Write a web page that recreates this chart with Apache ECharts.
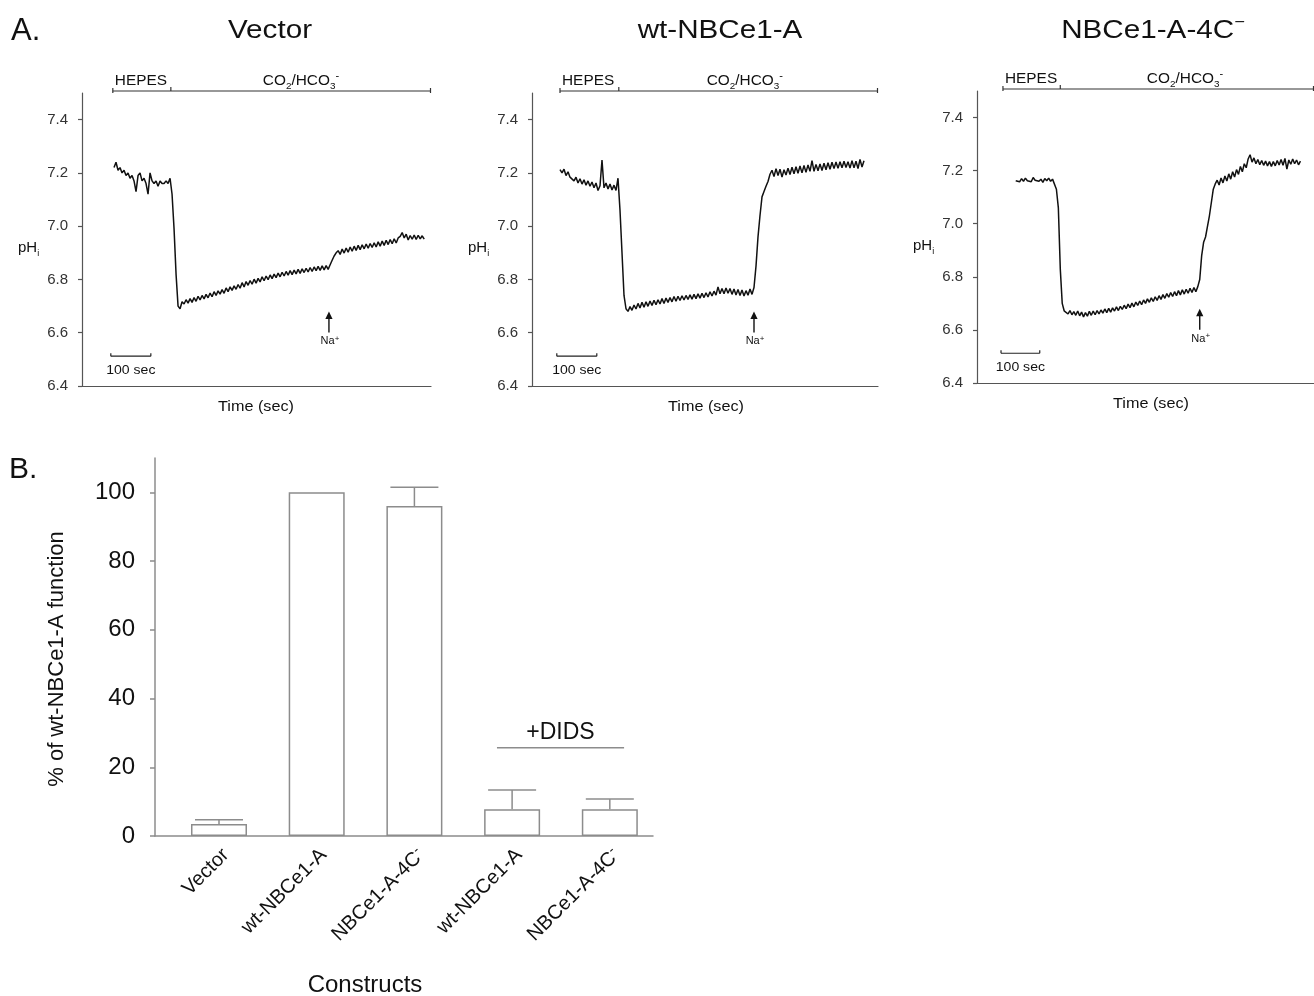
<!DOCTYPE html>
<html>
<head>
<meta charset="utf-8">
<script src="https://cdn.jsdelivr.net/npm/echarts@6/dist/echarts.min.js"></script>
<style>
    html, body { margin: 0; padding: 0; background: #fff; }
    #main { width: 1314px; height: 996px; }
</style>
</head>
<body>
<div id="main"></div>
<script>
// ---- data ----
var phTicks = [6.4, 6.6, 6.8, 7.0, 7.2, 7.4]
var panelTitles = ['Vector', 'wt-NBCe1-A', 'NBCe1-A-4C−']
var sampleStep = 5               // sec between trace samples
var traceStart = [80, 70, 100]   // sec, first sample of each trace
var hepesOn = [77, 70, 67]
var co2On = [222, 217, 215]
var recordEnd = [872, 865, 870]
var co2LabelTime = [547, 532, 537]
var naAddTime = [617, 555, 575]
var scaleBarStart = [72, 62, 62]

var vectorPh = [
    7.22, 7.24, 7.21, 7.22, 7.20, 7.21, 7.19, 7.20, 7.18, 7.19,
    7.17, 7.13, 7.19, 7.20, 7.17, 7.18, 7.16, 7.12, 7.20, 7.17,
    7.16, 7.17, 7.15, 7.17, 7.16, 7.16, 7.17, 7.16, 7.18, 7.12,
    6.99, 6.82, 6.70, 6.690, 6.716,
    6.708, 6.724, 6.711, 6.728, 6.714, 6.732, 6.718, 6.737, 6.723, 6.740,
    6.727, 6.744, 6.731, 6.749, 6.735, 6.754, 6.740, 6.757, 6.745, 6.762,
    6.748, 6.768, 6.754, 6.772, 6.759, 6.776, 6.763, 6.781, 6.767, 6.788,
    6.772, 6.792, 6.778, 6.796, 6.782, 6.801, 6.786, 6.804, 6.791, 6.810,
    6.795, 6.813, 6.799, 6.817, 6.803, 6.820, 6.807, 6.824, 6.810, 6.827,
    6.813, 6.830, 6.816, 6.833, 6.818, 6.835, 6.821, 6.838, 6.823, 6.840,
    6.826, 6.842, 6.828, 6.845, 6.830, 6.847, 6.833, 6.849, 6.834, 6.851,
    6.836, 6.852, 6.838,
    6.855, 6.872, 6.888, 6.900, 6.908, 6.894, 6.914, 6.899, 6.918, 6.902,
    6.922, 6.906, 6.925, 6.909, 6.928, 6.912, 6.930, 6.915, 6.933, 6.917,
    6.935, 6.920, 6.938, 6.922, 6.941, 6.925, 6.944, 6.928, 6.947, 6.931,
    6.950, 6.934, 6.953, 6.937, 6.956, 6.962, 6.976, 6.956, 6.970, 6.948,
    6.965, 6.951, 6.967, 6.950, 6.966, 6.952, 6.964, 6.951
]
var wtPh = [
    7.212, 7.200, 7.214, 7.190, 7.204, 7.184, 7.186, 7.170, 7.184, 7.162,
    7.178, 7.158, 7.174, 7.154, 7.170, 7.150, 7.166, 7.144, 7.162, 7.134,
    7.152, 7.248, 7.144, 7.162, 7.140, 7.158, 7.136, 7.154, 7.134, 7.180,
    7.060, 6.900, 6.740, 6.690,
    6.680, 6.698, 6.684, 6.704, 6.689, 6.710, 6.693, 6.714, 6.696, 6.716,
    6.699, 6.719, 6.702, 6.722, 6.705, 6.724, 6.708, 6.728, 6.710, 6.730,
    6.714, 6.732, 6.716, 6.736, 6.718, 6.737, 6.721, 6.739, 6.723, 6.740,
    6.725, 6.742, 6.726, 6.744, 6.728, 6.746, 6.730, 6.748, 6.732, 6.750,
    6.734, 6.754, 6.738, 6.756, 6.741, 6.772, 6.746, 6.766, 6.746, 6.768,
    6.748, 6.766, 6.744, 6.764, 6.742, 6.762, 6.740, 6.760, 6.738, 6.758,
    6.741, 6.764, 6.744, 6.770,
    6.850, 6.960, 7.040, 7.110, 7.130, 7.150, 7.168, 7.195,
    7.210, 7.186, 7.216, 7.190, 7.214, 7.184, 7.212, 7.192, 7.218, 7.194,
    7.221, 7.197, 7.223, 7.199, 7.226, 7.200, 7.228, 7.202, 7.230, 7.206,
    7.246, 7.206, 7.232, 7.208, 7.234, 7.209, 7.236, 7.212, 7.238, 7.214,
    7.240, 7.216, 7.241, 7.217, 7.242, 7.219, 7.244, 7.220, 7.242, 7.218,
    7.246, 7.219, 7.244, 7.216, 7.251, 7.222, 7.246
]
var mutantPh = [
    7.162, 7.168, 7.158, 7.170, 7.160, 7.172, 7.162, 7.168, 7.158, 7.174,
    7.164, 7.170, 7.160, 7.168, 7.156, 7.170, 7.162, 7.172, 7.160, 7.168,
    7.165, 7.130, 7.060, 6.830, 6.700,
    6.672, 6.666, 6.660, 6.673, 6.657, 6.669, 6.655, 6.671, 6.653, 6.667,
    6.649, 6.665, 6.652, 6.670, 6.655, 6.671, 6.657, 6.673, 6.660, 6.675,
    6.663, 6.679, 6.665, 6.681, 6.667, 6.683, 6.671, 6.687, 6.673, 6.689,
    6.677, 6.693, 6.680, 6.697, 6.684, 6.701, 6.687, 6.705, 6.692, 6.709,
    6.695, 6.713, 6.700, 6.717, 6.704, 6.721, 6.707, 6.725, 6.711, 6.729,
    6.715, 6.733, 6.719, 6.737, 6.723, 6.741, 6.726, 6.744, 6.729, 6.748,
    6.732, 6.751, 6.735, 6.753, 6.738, 6.757, 6.741, 6.760, 6.744, 6.763,
    6.790, 6.880, 6.930, 6.950, 6.990, 7.030, 7.080, 7.130,
    7.150, 7.164, 7.146, 7.172, 7.154, 7.180, 7.161, 7.188, 7.168, 7.196,
    7.176, 7.204, 7.186, 7.216, 7.196, 7.226, 7.211, 7.244, 7.260, 7.232,
    7.248, 7.226, 7.242, 7.222, 7.238, 7.220, 7.236, 7.218, 7.234, 7.216,
    7.234, 7.218, 7.238, 7.221, 7.242, 7.220, 7.246, 7.206, 7.240, 7.224,
    7.244, 7.226, 7.240, 7.222, 7.236
]
var traces = [vectorPh, wtPh, mutantPh]

var barCategories = ['Vector', 'wt-NBCe1-A', 'NBCe1-A-4C−', 'wt-NBCe1-A', 'NBCe1-A-4C−']
var barValues = [3.5, 100, 96, 7.8, 7.8]
var barErrors = [1.2, 0, 5.5, 5.6, 3.0]
var percentTicks = [0, 20, 40, 60, 80, 100]

// ---- layout ----
var FONT = "'Liberation Sans', Arial, Helvetica, sans-serif"
var panels = [
    { left: 82, top: 93, width: 349, height: 293 },
    { left: 532, top: 93, width: 346, height: 293 },
    { left: 977, top: 91, width: 348, height: 292 }
]
var axisGray = '#555'
var barGray = '#8c8c8c'
var labelShift = 0.07   // rotated labels sit a little right of the bar centre

var myChart = echarts.init(document.getElementById('main'))

var grids = [], xAxes = [], yAxes = [], series = []
$each(panels, function (p, i) {
    grids.push({ left: p.left, top: p.top, width: p.width, height: p.height })
    xAxes.push({
        type: 'value', gridIndex: i, min: 0, max: recordEnd[i],
        axisLine: { show: true, lineStyle: { color: axisGray, width: 1.2 } },
        axisTick: { show: false }, axisLabel: { show: false }, splitLine: { show: false }
    })
    yAxes.push({
        type: 'value', gridIndex: i, min: 6.4, max: 7.5,
        axisLine: { show: true, lineStyle: { color: axisGray, width: 1.2 } },
        axisTick: { show: true, customValues: phTicks, length: 4, lineStyle: { color: axisGray, width: 1.2 } },
        axisLabel: {
            customValues: phTicks, margin: 14, fontSize: 15, color: '#333', fontFamily: FONT,
            formatter: function (v) { return v.toFixed(1) }
        },
        splitLine: { show: false }
    })
    series.push({
        type: 'line', xAxisIndex: i, yAxisIndex: i,
        showSymbol: false, symbol: 'none',
        lineStyle: { color: '#111', width: 1.5 },
        data: traces[i].map(function (v, k) { return [traceStart[i] + k * sampleStep, v] })
    })
})

// bar chart (panel B)
grids.push({ left: 155, top: 458, width: 498, height: 378 })
xAxes.push({
    type: 'value', gridIndex: 3, min: 0.345, max: 5.442,
    axisLine: { show: true, lineStyle: { color: barGray, width: 1.5 } },
    axisTick: { show: false }, splitLine: { show: false },
    axisLabel: {
        customValues: barCategories.map(function (c, k) { return k + 1 + labelShift }),
        rotate: 45, margin: 16,
        fontSize: 20, color: '#111', fontFamily: FONT,
        formatter: function (v) {
            var name = barCategories[Math.round(v) - 1]
            if (name.charAt(name.length - 1) === '−') {
                return '{a|' + name.slice(0, -1) + '}{s|-}'
            }
            return '{a|' + name + '}'
        },
        rich: {
            a: { fontSize: 20, fontFamily: FONT, color: '#111', lineHeight: 24 },
            s: { fontSize: 14, fontFamily: FONT, color: '#111', lineHeight: 14, verticalAlign: 'top' }
        }
    }
})
yAxes.push({
    type: 'value', gridIndex: 3, min: 0, max: 110,
    axisLine: { show: true, lineStyle: { color: barGray, width: 1.5 } },
    axisTick: { show: true, customValues: percentTicks, length: 5, lineStyle: { color: barGray, width: 1.5 } },
    axisLabel: { customValues: percentTicks, margin: 20, fontSize: 24, color: '#111', fontFamily: FONT },
    splitLine: { show: false }
})
series.push({
    type: 'bar', xAxisIndex: 3, yAxisIndex: 3, barWidth: 56,
    itemStyle: { color: '#fff', borderColor: barGray, borderWidth: 1.5 },
    data: barValues.map(function (v, k) { return [k + 1, v] })
})
series.push({
    type: 'custom', xAxisIndex: 3, yAxisIndex: 3, z: 3,
    renderItem: function (params, api) {
        var x = api.value(0), v = api.value(1), e = api.value(2)
        if (!(e > 0)) return
        var base = api.coord([x, v])
        var top = api.coord([x, v + e])
        var st = { stroke: barGray, lineWidth: 1.5 }
        return {
            type: 'group',
            children: [
                { type: 'line', shape: { x1: base[0], y1: base[1], x2: top[0], y2: top[1] }, style: st },
                { type: 'line', shape: { x1: top[0] - 24, y1: top[1], x2: top[0] + 24, y2: top[1] }, style: st }
            ]
        }
    },
    data: barValues.map(function (v, k) { return [k + 1, v, barErrors[k]] })
})

myChart.setOption({
    animation: false,
    backgroundColor: '#fff',
    grid: grids,
    xAxis: xAxes,
    yAxis: yAxes,
    series: series
})

// ---- annotations ----
function px(i, t, v) {
    return myChart.convertToPixel({ seriesIndex: i }, [t, v])
}
function seg(x1, y1, x2, y2, color, w) {
    return { type: 'line', shape: { x1: x1, y1: y1, x2: x2, y2: y2 }, style: { stroke: color || '#222', lineWidth: w || 1.2 } }
}
function txt(x, y, text, size, opt) {
    opt = opt || {}
    var el = {
        type: 'text', x: x, y: y, z: 10,
        style: {
            text: text, fontSize: size, fontFamily: FONT, fill: opt.fill || '#111',
            align: opt.align || 'center', verticalAlign: 'middle', rich: opt.rich
        }
    }
    if (opt.scaleX) el.scaleX = opt.scaleX
    if (opt.rotation) el.rotation = opt.rotation
    return el
}

var g = []
g.push(txt(11, 31, 'A.', 31, { align: 'left' }))
g.push(txt(9, 470, 'B.', 30, { align: 'left' }))

var titleX = [270, 720, 1153]
$each(panels, function (p, i) {
    var by = p.top - 2
    var xs = px(i, hepesOn[i], 7)[0]
    var xm = px(i, co2On[i], 7)[0]
    var xe = px(i, recordEnd[i], 7)[0]
    g.push(seg(xs, by, xe, by, '#333', 1.2))
    g.push(seg(xs, by - 3, xs, by + 2, '#333', 1.2))
    g.push(seg(xm, by - 4, xm, by, '#333', 1.2))
    g.push(seg(xe - 0.5, by - 3, xe - 0.5, by + 2, '#333', 1.2))
    g.push(txt(xs + 2, by - 10, 'HEPES', 14, { align: 'left', scaleX: 1.1 }))
    g.push(txt(px(i, co2LabelTime[i], 7)[0], by - 10, '{n|CO}{b|2}{n|/HCO}{b|3}{t|-}', 14, {
        scaleX: 1.1,
        rich: {
            n: { fontSize: 14, fontFamily: FONT, fill: '#111', lineHeight: 20 },
            b: { fontSize: 9, fontFamily: FONT, fill: '#111', lineHeight: 10, verticalAlign: 'bottom' },
            t: { fontSize: 10, fontFamily: FONT, fill: '#111', lineHeight: 10, verticalAlign: 'top' }
        }
    }))

    // title
    var title = panelTitles[i]
    if (title.charAt(title.length - 1) === '−') {
        g.push(txt(titleX[i], 31, '{a|' + title.slice(0, -1) + '}{s|−}', 26, {
            scaleX: 1.14,
            rich: {
                a: { fontSize: 26, fontFamily: FONT, fill: '#111', lineHeight: 32 },
                s: { fontSize: 16, fontFamily: FONT, fill: '#111', lineHeight: 14, verticalAlign: 'top' }
            }
        }))
    } else {
        g.push(txt(titleX[i], 31, title, 26, { scaleX: 1.14 }))
    }

    // Na+ arrow
    var a = px(i, naAddTime[i], 6.68)
    g.push({ type: 'polygon', z: 10, shape: { points: [[a[0], a[1]], [a[0] - 3.6, a[1] + 7.5], [a[0] + 3.6, a[1] + 7.5]] }, style: { fill: '#111' } })
    g.push(seg(a[0], a[1] + 6, a[0], a[1] + 21, '#111', 1.4))
    g.push(txt(a[0] + 1, a[1] + 30, '{n|Na}{p|+}', 11, {
        rich: {
            n: { fontSize: 11, fontFamily: FONT, fill: '#111', lineHeight: 14 },
            p: { fontSize: 8, fontFamily: FONT, fill: '#111', lineHeight: 8, verticalAlign: 'top' }
        }
    }))

    // 100 sec scale bar
    var s0 = px(i, scaleBarStart[i], 6.512)
    var s1 = px(i, scaleBarStart[i] + 100, 6.512)
    g.push(seg(s0[0], s0[1], s1[0], s1[1], '#222', 1.2))
    g.push(seg(s0[0], s0[1] - 3, s0[0], s0[1], '#222', 1.2))
    g.push(seg(s1[0], s1[1] - 3, s1[0], s1[1], '#222', 1.2))
    g.push(txt((s0[0] + s1[0]) / 2, s0[1] + 14, '100 sec', 13, { scaleX: 1.08 }))

    // axis names
    g.push(txt(p.left - 64, p.top + 155, '{n|pH}{b|i}', 15, {
        align: 'left',
        rich: {
            n: { fontSize: 15, fontFamily: FONT, fill: '#111', lineHeight: 20 },
            b: { fontSize: 9, fontFamily: FONT, fill: '#111', lineHeight: 9, verticalAlign: 'bottom' }
        }
    }))
    g.push(txt(p.left + 174, p.top + p.height + 21, 'Time (sec)', 15, { scaleX: 1.08 }))
})

// panel B annotations
g.push(txt(57, 659, '% of wt-NBCe1-A function', 22, { rotation: Math.PI / 2 }))
g.push(txt(365, 985, 'Constructs', 24))
var d0 = px(3, 3.845, 25.7)
var d1 = px(3, 5.146, 25.7)
g.push(seg(d0[0], d0[1], d1[0], d1[1], barGray, 1.5))
g.push(txt((d0[0] + d1[0]) / 2, d0[1] - 15, '+DIDS', 23))

myChart.setOption({ graphic: { elements: g } })

function $each(arr, fn) {
    for (var i = 0; i < arr.length; i++) fn(arr[i], i)
}
</script>
</body>
</html>
